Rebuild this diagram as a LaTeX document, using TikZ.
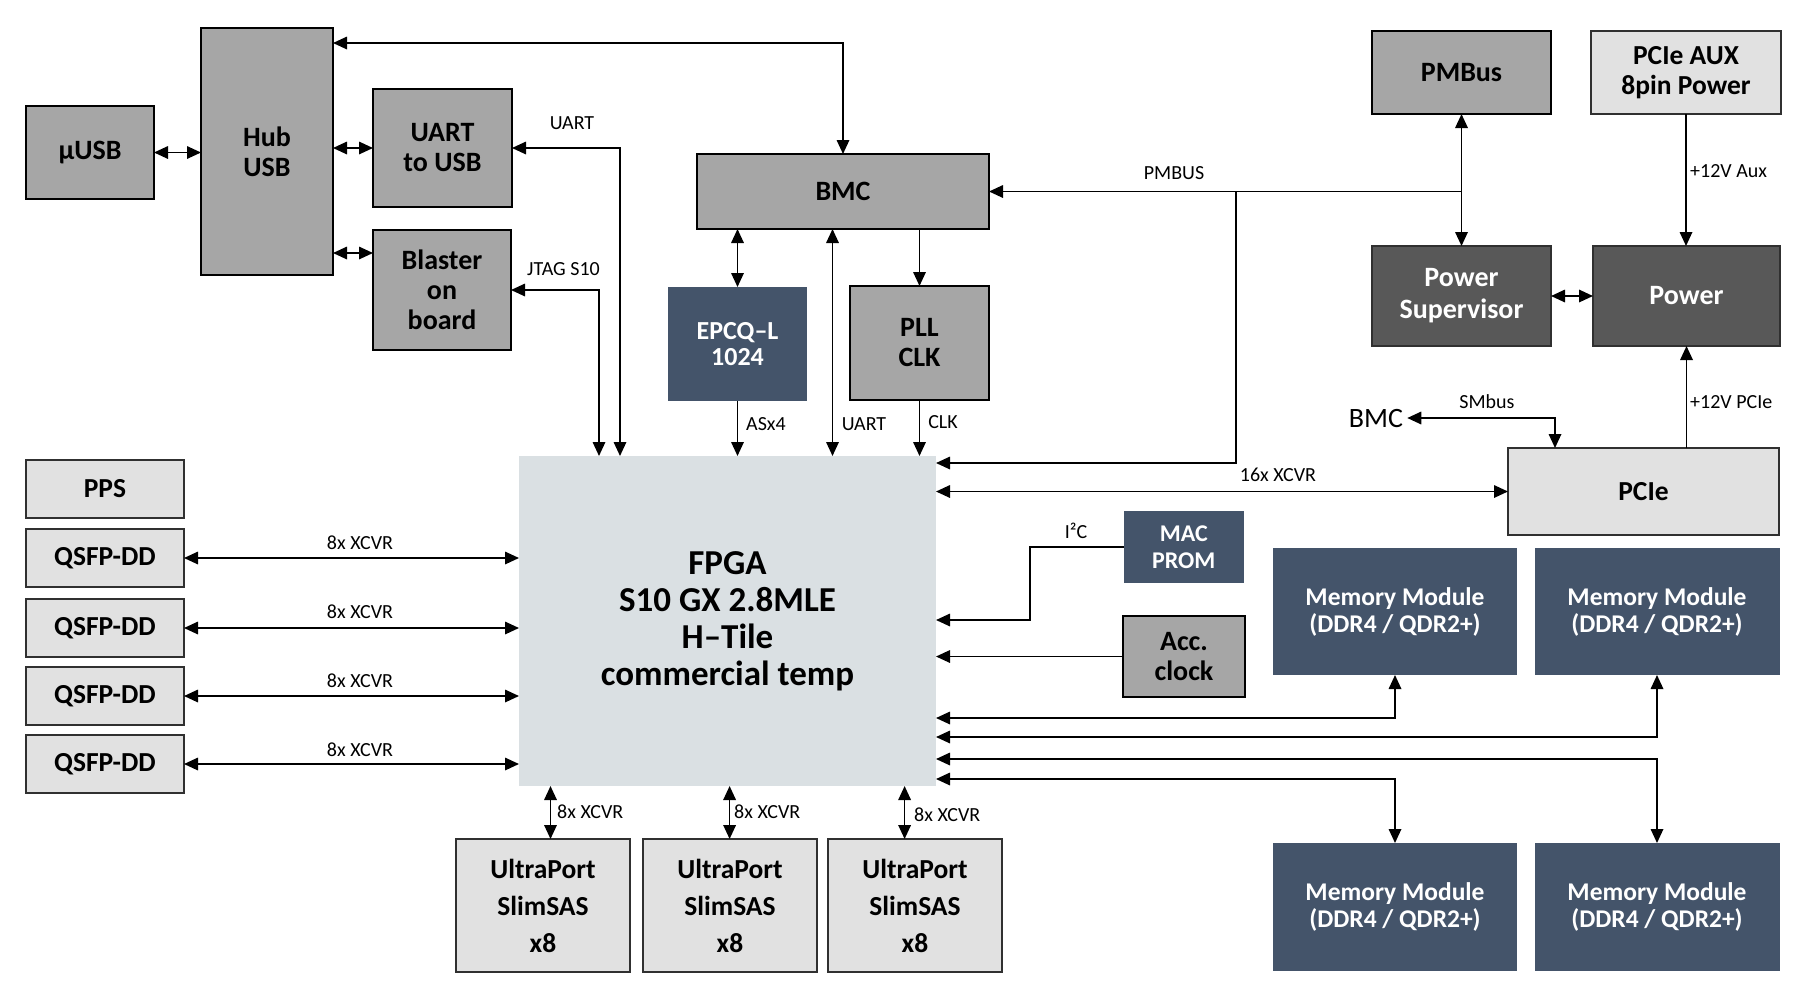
\documentclass[tikz,border=0pt]{standalone}
\usepackage{fontspec}
\setmainfont{Carlito}
\usetikzlibrary{arrows.meta}
\definecolor{midgray}{HTML}{A6A6A6}
\definecolor{lightgray}{HTML}{E1E1E1}
\definecolor{darkgray}{HTML}{585858}
\definecolor{navy}{HTML}{44546A}
\definecolor{fpgafill}{HTML}{DAE0E3}
\definecolor{edgegray}{HTML}{303030}
\tikzset{
  base/.style={inner sep=0pt, outer sep=0pt, align=center, line width=1.5pt},
  midbox/.style={base, draw=black, fill=midgray, text=black, font=\bfseries\fontsize{28}{30}\selectfont},
  lightbox/.style={base, draw=edgegray, fill=lightgray, text=black, font=\bfseries\fontsize{27.5}{30}\selectfont},
  darkbox/.style={base, draw=edgegray, fill=darkgray, text=white, font=\bfseries\fontsize{28}{32}\selectfont},
  navybox/.style={base, fill=navy, text=white, font=\bfseries\fontsize{25.5}{27}\selectfont},
  lab/.style={inner sep=0pt, font=\fontsize{20}{22}\selectfont},
  conn/.style={line width=1.7pt, draw=black},
  arr/.style={conn, -{Triangle[length=14pt,width=12.5pt]}},
  dbl/.style={conn, {Triangle[length=14pt,width=12.5pt]}-{Triangle[length=14pt,width=12.5pt]}}
}
\begin{document}
\begin{tikzpicture}[x=1pt,y=-1pt]
\useasboundingbox (0,0) rectangle (1807,997);
\fill[white] (0,0) rectangle (1807,997);

% ---- boxes ----
\node[midbox, minimum width=128pt, minimum height=93pt] (usb) at (90,152.5) {µUSB};
\node[midbox, minimum width=132pt, minimum height=247pt] (hub) at (267,151.5) {Hub\\USB};
\node[midbox, minimum width=139pt, minimum height=118pt] (uart) at (442.5,148) {UART\\to USB};
\node[midbox, minimum width=138pt, minimum height=120pt] (blaster) at (442,290) {Blaster\\on\\board};
\node[midbox, minimum width=292pt, minimum height=75pt] (bmc) at (843,191.5) {BMC};
\node[navybox, font=\bfseries\fontsize{26}{26}\selectfont, minimum width=139pt, minimum height=114pt] (epcq) at (737.5,344) {EPCQ–L\\1024};
\node[midbox, minimum width=139pt, minimum height=114pt] (pll) at (919.5,343) {PLL\\CLK};
\node[midbox, minimum width=179pt, minimum height=83pt] (pmbus) at (1461.5,72.5) {PMBus};
\node[lightbox, minimum width=190pt, minimum height=83pt] (aux) at (1686,72.5) {PCIe AUX\\8pin Power};
\node[darkbox, minimum width=179pt, minimum height=100pt] (psup) at (1461.5,296) {Power\\Supervisor};
\node[darkbox, minimum width=187pt, minimum height=100pt] (power) at (1686.5,296) {Power};
\node[lightbox, minimum width=271pt, minimum height=87pt] (pcie) at (1643.5,491.5) {PCIe};
\node[base, fill=fpgafill, minimum width=417pt, minimum height=330pt, font=\bfseries\fontsize{35}{37}\selectfont] (fpga) at (727.5,621) {FPGA\\S10 GX 2.8MLE\\H–Tile\\commercial temp};
\node[lightbox, minimum width=158pt, minimum height=58pt] (pps) at (105,489) {PPS};
\node[lightbox, minimum width=158pt, minimum height=58pt] (q1) at (105,558) {QSFP-DD};
\node[lightbox, minimum width=158pt, minimum height=58pt] (q2) at (105,628) {QSFP-DD};
\node[lightbox, minimum width=158pt, minimum height=58pt] (q3) at (105,696) {QSFP-DD};
\node[lightbox, minimum width=158pt, minimum height=58pt] (q4) at (105,764) {QSFP-DD};
\node[lightbox, font=\bfseries\fontsize{27.5}{37}\selectfont, minimum width=174pt, minimum height=133pt] (up1) at (543,905.5) {UltraPort\\SlimSAS\\x8};
\node[lightbox, font=\bfseries\fontsize{27.5}{37}\selectfont, minimum width=174pt, minimum height=133pt] (up2) at (730,905.5) {UltraPort\\SlimSAS\\x8};
\node[lightbox, font=\bfseries\fontsize{27.5}{37}\selectfont, minimum width=174pt, minimum height=133pt] (up3) at (915,905.5) {UltraPort\\SlimSAS\\x8};
\node[navybox, font=\bfseries\fontsize{24}{27}\selectfont, minimum width=120pt, minimum height=72pt] (mac) at (1183.75,547) {MAC\\PROM};
\node[midbox, minimum width=122pt, minimum height=81pt] (acc) at (1184,656.5) {Acc.\\clock};
\node[navybox, minimum width=244pt, minimum height=127pt] (mm1) at (1395,611.5) {Memory Module\\(DDR4 / QDR2+)};
\node[navybox, minimum width=245pt, minimum height=127pt] (mm2) at (1657,611.5) {Memory Module\\(DDR4 / QDR2+)};
\node[navybox, minimum width=244pt, minimum height=128pt] (mm3) at (1395,907) {Memory Module\\(DDR4 / QDR2+)};
\node[navybox, minimum width=245pt, minimum height=128pt] (mm4) at (1657,907) {Memory Module\\(DDR4 / QDR2+)};
\node[inner sep=0pt, inner xsep=4pt, font=\fontsize{28}{30}\selectfont] (bmcref) at (1376,418) {BMC};

% ---- helper coordinates ----
\coordinate (yHB) at (0,253);
\coordinate (yTop) at (0,43);
\coordinate (xU) at (620,0);
\coordinate (xJ) at (599,0);
\coordinate (xB) at (832.5,0);
\coordinate (xP) at (1236,0);
\coordinate (yPF) at (0,463);
\coordinate (xSM) at (1555,0);
\coordinate (xI) at (1030,0);
\coordinate (yI) at (0,620);
\coordinate (yM1) at (0,718);
\coordinate (yM2) at (0,737);
\coordinate (yM4) at (0,759);
\coordinate (yM3) at (0,779);
\coordinate (xu1) at (550.5,0);
\coordinate (xu2) at (729.6,0);
\coordinate (xu3) at (904.6,0);

% ---- connectors ----
\draw[dbl] (usb.east) -- (usb.east -| hub.west);
\draw[dbl] (uart.west -| hub.east) -- (uart.west);
\draw[dbl] (hub.east |- yHB) -- (blaster.west |- yHB);
\draw[dbl] (hub.east |- yTop) -| (bmc.north);
\draw[dbl] (uart.east) -| (xU |- fpga.north);
\draw[dbl] (blaster.east) -| (xJ |- fpga.north);
\draw[dbl] (epcq.north |- bmc.south) -- (epcq.north);
\draw[dbl] (xB |- bmc.south) -- (xB |- fpga.north);
\draw[arr] (pll.north |- bmc.south) -- (pll.north);
\draw[arr] (epcq.south) -- (epcq.south |- fpga.north);
\draw[arr] (pll.south) -- (pll.south |- fpga.north);
\draw[dbl] (pmbus.south) -- (psup.north);
\draw[arr] (pmbus.south |- bmc.east) -- (bmc.east);
\draw[arr] (xP |- bmc.east) |- (fpga.east |- yPF);
\draw[dbl] (fpga.east |- pcie.west) -- (pcie.west);
\draw[dbl] (bmcref.east) -| (xSM |- pcie.north);
\draw[arr] (aux.south) -- (aux.south |- power.north);
\draw[arr] (power.south |- pcie.north) -- (power.south);
\draw[dbl] (psup.east) -- (power.west);
\draw[arr] (mac.west) -| (xI |- yI) -- (fpga.east |- yI);
\draw[arr] (acc.west) -- (fpga.east |- acc.west);
\draw[dbl] (fpga.east |- yM1) -| (mm1.south);
\draw[dbl] (fpga.east |- yM2) -| (mm2.south);
\draw[dbl] (fpga.east |- yM4) -| (mm4.north);
\draw[dbl] (fpga.east |- yM3) -| (mm3.north);
\draw[dbl] (q1.east) -- (fpga.west |- q1.east);
\draw[dbl] (q2.east) -- (fpga.west |- q2.east);
\draw[dbl] (q3.east) -- (fpga.west |- q3.east);
\draw[dbl] (q4.east) -- (fpga.west |- q4.east);
\draw[dbl] (xu1 |- fpga.south) -- (xu1 |- up1.north);
\draw[dbl] (xu2 |- fpga.south) -- (xu2 |- up2.north);
\draw[dbl] (xu3 |- fpga.south) -- (xu3 |- up3.north);

% ---- labels ----
\node[lab] (l1) at (572,123) {UART};
\node[lab] (l2) at (563.5,269.5) {JTAG S10};
\node[lab] (l3) at (1174,173) {PMBUS};
\node[lab] (l4) at (766,424) {ASx4};
\node[lab] (l5) at (864,424) {UART};
\node[lab] (l6) at (943,422) {CLK};
\node[lab, anchor=west] (l7) at (1690,171) {+12V Aux};
\node[lab, anchor=west] (l8) at (1690,402) {+12V PCIe};
\node[lab] (l9) at (1487,402) {SMbus};
\node[lab] (l10) at (1278,475) {16x XCVR};
\node[lab] (l11) at (1076,531) {I²C};
\node[lab] (l12) at (360,543) {8x XCVR};
\node[lab] (l13) at (360,612) {8x XCVR};
\node[lab] (l14) at (360,681) {8x XCVR};
\node[lab] (l15) at (360,750) {8x XCVR};
\node[lab, anchor=west] (l16) at (557,812) {8x XCVR};
\node[lab, anchor=west] (l17) at (734,812) {8x XCVR};
\node[lab, anchor=west] (l18) at (914,815) {8x XCVR};
\end{tikzpicture}
\end{document}
